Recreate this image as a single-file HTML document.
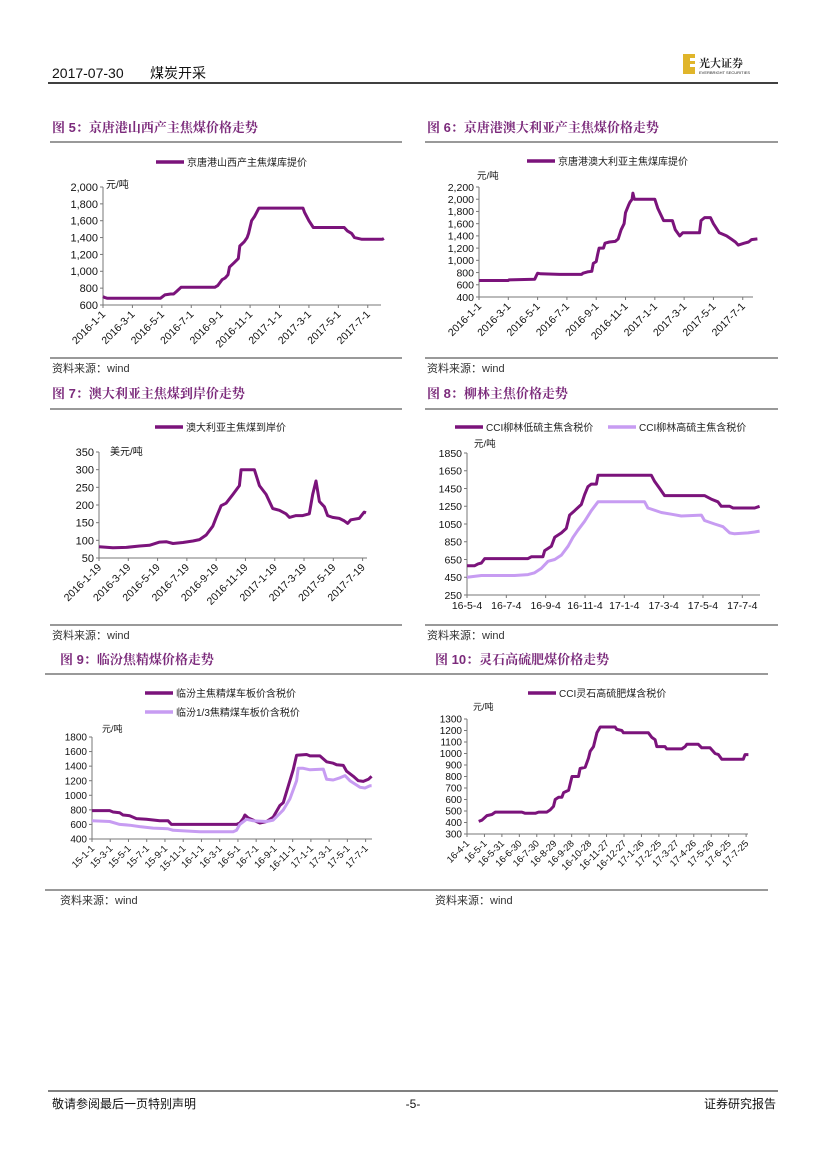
<!DOCTYPE html>
<html><head><meta charset="utf-8">
<style>
html,body{margin:0;padding:0;background:#fff;}
svg{display:block;}
text{font-family:"Liberation Sans","Noto Sans CJK SC",sans-serif;}
.ttl{font-family:"Liberation Sans","Noto Serif CJK SC",serif;font-weight:bold;fill:#7b2a7b;font-size:13px;}
</style></head>
<body>
<svg id="page" width="827" height="1169" viewBox="0 0 827 1169" xmlns="http://www.w3.org/2000/svg">
<g>
<text x="52" y="78" font-size="14" fill="#111">2017-07-30</text>
<text x="150" y="78" font-size="14" fill="#111">煤炭开采</text>
<line x1="48" y1="83" x2="778" y2="83" stroke="#000" stroke-width="1.5"/>
<g>
<rect x="683" y="54" width="12" height="20" fill="#e0b52a"/>
<rect x="690" y="58" width="5" height="3" fill="#fff"/><rect x="690" y="64" width="5" height="3" fill="#fff"/>
<text x="699" y="67" font-size="11" font-weight="bold" fill="#222" style="font-family:'Noto Serif CJK SC',serif">光大证券</text>
<text x="699" y="74" font-size="4" fill="#222">EVERBRIGHT SECURITIES</text>
</g>
</g>
<g>
<line x1="48" y1="1091" x2="778" y2="1091" stroke="#000" stroke-width="1"/>
<text x="52" y="1108" font-size="12" fill="#111">敬请参阅最后一页特别声明</text>
<text x="413" y="1108" font-size="12" fill="#111" text-anchor="middle">-5-</text>
<text x="776" y="1108" font-size="12" fill="#111" text-anchor="end">证券研究报告</text>
</g>
<g id="charts"></g>
</svg>
<script>
// Chart 5 data (x: months since 2016-1-1)
const c5Labels = ["2016-1-1","2016-3-1","2016-5-1","2016-7-1","2016-9-1","2016-11-1","2017-1-1","2017-3-1","2017-5-1","2017-7-1"];
const c5Yticks = [600,800,1000,1200,1400,1600,1800,2000];
const c5X = [0,0.1,0.3,3.9,4.2,4.6,4.8,5.0,5.3,7.6,7.8,8.1,8.3,8.5,8.6,8.9,9.2,9.3,9.6,9.8,9.9,10.1,10.3,10.6,13.6,13.7,14.0,14.3,16.4,16.6,16.9,17.1,17.6,19.0,19.1];
const c5Y = [700,690,680,680,720,730,730,760,810,810,830,900,920,960,1050,1100,1150,1300,1350,1400,1450,1600,1650,1750,1750,1700,1600,1520,1520,1480,1450,1400,1380,1380,1390];
// Chart 6
const c6Labels = c5Labels;
const c6Yticks = [400,600,800,1000,1200,1400,1600,1800,2000,2200];
const c6X = [0,2.0,2.05,3.8,3.9,4.0,4.2,5.5,7.0,7.1,7.4,7.7,7.8,8.0,8.1,8.2,8.5,8.6,8.9,9.3,9.5,9.7,9.9,10.0,10.2,10.3,10.45,10.5,10.6,12.0,12.2,12.4,12.6,13.2,13.4,13.7,13.9,15.05,15.15,15.4,15.8,16.0,16.4,16.9,17.2,17.5,17.7,18.1,18.4,18.6,19.0];
const c6Y = [670,670,680,690,740,790,780,770,770,790,810,820,950,980,1100,1200,1200,1280,1300,1310,1350,1500,1600,1780,1900,1950,2000,2100,2000,2000,1850,1750,1650,1650,1500,1400,1450,1450,1650,1700,1700,1600,1450,1400,1350,1300,1250,1280,1300,1340,1350];
// Chart 7 (months since 2016-1-19)
const c7Labels = ["2016-1-19","2016-3-19","2016-5-19","2016-7-19","2016-9-19","2016-11-19","2017-1-19","2017-3-19","2017-5-19","2017-7-19"];
const c7Yticks = [50,100,150,200,250,300,350];
const c7X = [0,0.95,1.86,2.77,3.45,4.14,4.59,5.05,5.73,6.41,6.86,7.32,7.77,8.0,8.34,8.68,9.14,9.59,9.7,10.61,10.95,11.41,11.86,12.32,12.77,13.0,13.45,13.91,14.36,14.59,14.82,15.05,15.39,15.61,15.95,16.41,16.75,16.98,17.2,17.77,18.11,18.23];
const c7Y = [82,79,80,84,86,95,96,91,94,98,102,115,140,165,198,205,230,255,300,300,255,230,190,185,175,165,170,170,175,230,268,210,195,170,165,162,155,148,158,162,180,178];
// Chart 8 (months since 16-5-4)
const c8Labels = ["16-5-4","16-7-4","16-9-4","16-11-4","17-1-4","17-3-4","17-5-4","17-7-4"];
const c8Yticks = [250,450,650,850,1050,1250,1450,1650,1850];
const c8X1 = [0,0.39,0.56,0.73,0.9,3.1,3.27,3.86,3.95,4.29,4.46,4.8,5.05,5.22,5.47,5.81,5.98,6.15,6.32,6.58,6.66,9.37,9.54,9.8,10.05,12.08,12.42,12.76,12.93,13.36,13.53,14.63,14.88];
const c8Y1 = [580,580,600,610,660,660,680,680,750,800,900,950,1000,1150,1200,1270,1380,1470,1500,1500,1600,1600,1530,1450,1370,1370,1330,1300,1250,1250,1230,1230,1250];
const c8X2 = [0,0.73,2.42,3.1,3.44,3.78,4.12,4.46,4.8,5.14,5.39,5.64,5.98,6.32,6.66,9.03,9.2,9.88,10.39,10.9,11.92,12.08,12.59,13.02,13.36,13.61,14.29,14.63,14.88];
const c8Y2 = [450,470,470,480,500,550,630,650,700,800,900,980,1080,1200,1300,1300,1230,1180,1160,1140,1150,1090,1050,1020,950,940,950,960,970];
// Chart 9 (months since 15-1-1)
const c9Labels = ["15-1-1","15-3-1","15-5-1","15-7-1","15-9-1","15-11-1","16-1-1","16-3-1","16-5-1","16-7-1","16-9-1","16-11-1","17-1-1","17-3-1","17-5-1","17-7-1"];
const c9Yticks = [400,600,800,1000,1200,1400,1600,1800];
const c9X1 = [0,1.94,2.31,3.04,3.4,4.13,4.87,5.96,7.43,8.34,8.71,11.82,15.84,16.21,16.58,16.76,17.12,17.67,18.4,19.14,19.87,20.6,20.97,21.7,22.06,22.43,23.53,23.9,24.99,25.36,25.72,26.45,26.82,27.55,27.92,28.65,29.2,29.75,30.3,30.66];
const c9Y1 = [790,790,770,760,730,720,680,670,650,650,600,600,600,620,680,730,690,660,620,640,700,860,900,1200,1350,1550,1560,1540,1540,1500,1460,1440,1420,1410,1330,1260,1200,1190,1220,1260];
const c9X2 = [0,1.94,3.04,4.13,5.23,6.7,8.34,8.89,10.35,11.82,15.48,15.84,16.21,16.94,17.67,19.14,19.87,20.97,21.7,22.43,22.61,23.16,23.9,25.36,25.72,26.45,27.19,27.74,28.28,29.38,29.93,30.48,30.66];
const c9Y2 = [650,640,600,590,570,550,540,520,510,500,500,520,600,670,650,640,660,800,950,1200,1370,1370,1350,1360,1220,1210,1240,1270,1200,1110,1100,1130,1130];
// Chart 10 (x in ~32-day units since 16-4-1; labels every 30 days)
const c10Labels = ["16-4-1","16-5-1","16-5-31","16-6-30","16-7-30","16-8-29","16-9-28","16-10-28","16-11-27","16-12-27","17-1-26","17-2-25","17-3-27","17-4-26","17-5-26","17-6-25","17-7-25"];
const c10Yticks = [300,400,500,600,700,800,900,1000,1100,1200,1300];
const c10X = [0.63,0.8,1.07,1.34,1.52,2.95,3.13,3.67,3.85,4.29,4.47,4.65,4.74,4.92,5.1,5.19,5.46,5.64,5.99,6.08,6.35,6.53,6.62,6.8,6.98,7.16,7.96,8.05,8.32,8.41,9.75,9.93,10.11,10.2,10.64,10.73,11.54,11.72,11.81,12.43,12.61,13.06,13.33,13.51,13.69,14.85,14.94,15.12];
const c10Y = [410,420,460,470,490,490,480,480,490,490,510,540,600,620,620,660,680,800,800,870,880,960,1020,1060,1180,1230,1230,1210,1200,1180,1180,1140,1120,1060,1060,1040,1040,1060,1080,1080,1050,1050,1000,990,950,950,990,990];

const NS = "http://www.w3.org/2000/svg";
const root = document.getElementById("charts");
const DARK = "#7b137b", LIGHT = "#c79cf2";
function mk(tag, attrs, parent, txt) {
  const e = document.createElementNS(NS, tag);
  for (const k in attrs) e.setAttribute(k, attrs[k]);
  if (txt !== undefined) e.textContent = txt;
  parent.appendChild(e);
  return e;
}
function fmt(v, comma) { return comma ? v.toLocaleString("en-US") : String(v); }

function frame(g, f) {
  const t = mk("text", {x: f.tx, y: f.ty, class: "ttl"}, g, f.title);
  
  
  mk("line", {x1: f.rx0, x2: f.rx1, y1: f.ry0, y2: f.ry0, stroke: "#333", "stroke-width": 1}, g);
  mk("line", {x1: f.rx0, x2: f.rx1, y1: f.ry1, y2: f.ry1, stroke: "#333", "stroke-width": 1}, g);
  const s = mk("text", {x: f.tx, y: f.ry1 + 14, "font-size": 11, fill: "#333"}, g, "资料来源：wind");
  
  
}

function chart(c) {
  const g = mk("g", {}, root);
  
  
  frame(g, c.frame);
  const sx = v => c.x0 + (v - c.xmin) / (c.xmax - c.xmin) * (c.x1 - c.x0);
  const sy = v => c.yb + (v - c.ymin) / (c.ymax - c.ymin) * (c.yt - c.yb);
  const ya = mk("g", {}, g);
  
  
  mk("line", {x1: c.x0, x2: c.x0, y1: c.yt, y2: c.yb, stroke: "#777", "stroke-width": 1}, ya);
  c.yticks.forEach(v => {
    const y = sy(v);
    mk("line", {x1: c.x0 - 3, x2: c.x0, y1: y, y2: y, stroke: "#777"}, ya);
    const t = mk("text", {x: c.x0 - 5, y: y + c.fs * 0.36, "font-size": c.fs, fill: "#111", "text-anchor": "end"}, ya, fmt(v, c.comma));
    
    
  });
  const u = mk("text", {x: c.ux, y: c.uy, "font-size": c.fs - 1, fill: "#111"}, ya, c.unit);
  
  
  const xa = mk("g", {}, g);
  
  
  mk("line", {x1: c.x0, x2: c.x1, y1: c.yb, y2: c.yb, stroke: "#777"}, xa);
  c.labels.forEach((lab, i) => {
    const x = sx(i * c.step);
    mk("line", {x1: x, x2: x, y1: c.yb, y2: c.yb + 3, stroke: "#777"}, xa);
    let t;
    if (c.rot) {
      t = mk("text", {x: x + 3, y: c.yb + 10, "font-size": c.xfs, fill: "#111", "text-anchor": "end", transform: `rotate(-45 ${x + 3} ${c.yb + 10})`}, xa, lab);
    } else {
      t = mk("text", {x: x, y: c.yb + 14, "font-size": c.xfs, fill: "#111", "text-anchor": "middle"}, xa, lab);
    }
    
    
  });
  c.series.forEach(s => {
    const pts = s.xs.map((v, i) => sx(v).toFixed(1) + "," + sy(s.ys[i]).toFixed(1)).join(" ");
    const p = mk("polyline", {points: pts, fill: "none", stroke: s.color, "stroke-width": 3, "stroke-linejoin": "round"}, g);
    
    
    const le = mk("g", {}, g);
    
    
    mk("line", {x1: s.lx, x2: s.lx + 28, y1: s.ly, y2: s.ly, stroke: s.color, "stroke-width": 3.5}, le);
    mk("text", {x: s.lx + 31, y: s.ly + 4, "font-size": 10, fill: "#222"}, le, s.label);
  });
}

chart({name: "chart-fig5", frame: {title: "图 5：京唐港山西产主焦煤价格走势", tx: 52, ty: 132, rx0: 50, rx1: 402, ry0: 142, ry1: 358},
  x0: 103, x1: 381, xmin: 0, xmax: 18.9, yb: 305, yt: 187, ymin: 600, ymax: 2000, yticks: c5Yticks, comma: true, fs: 11, xfs: 10.5, rot: true,
  labels: c5Labels, step: 2, unit: "元/吨", ux: 106, uy: 188,
  series: [{name: "series-shanxi-coking-coal", xs: c5X, ys: c5Y, color: DARK, label: "京唐港山西产主焦煤库提价", lx: 156, ly: 162}]});
chart({name: "chart-fig6", frame: {title: "图 6：京唐港澳大利亚产主焦煤价格走势", tx: 427, ty: 132, rx0: 425, rx1: 778, ry0: 142, ry1: 358},
  x0: 479, x1: 753, xmin: 0, xmax: 18.7, yb: 297, yt: 187, ymin: 400, ymax: 2200, yticks: c6Yticks, comma: true, fs: 10.5, xfs: 10.5, rot: true,
  labels: c6Labels, step: 2, unit: "元/吨", ux: 477, uy: 179,
  series: [{name: "series-australia-coking-coal", xs: c6X, ys: c6Y, color: DARK, label: "京唐港澳大利亚主焦煤库提价", lx: 527, ly: 161}]});
chart({name: "chart-fig7", frame: {title: "图 7：澳大利亚主焦煤到岸价走势", tx: 52, ty: 398, rx0: 50, rx1: 402, ry0: 409, ry1: 625},
  x0: 99, x1: 367, xmin: 0, xmax: 18.3, yb: 558, yt: 452, ymin: 50, ymax: 350, yticks: c7Yticks, comma: false, fs: 11, xfs: 10.5, rot: true,
  labels: c7Labels, step: 2, unit: "美元/吨", ux: 110, uy: 455,
  series: [{name: "series-australia-cif", xs: c7X, ys: c7Y, color: DARK, label: "澳大利亚主焦煤到岸价", lx: 155, ly: 427}]});
chart({name: "chart-fig8", frame: {title: "图 8：柳林主焦价格走势", tx: 427, ty: 398, rx0: 425, rx1: 778, ry0: 409, ry1: 625},
  x0: 467, x1: 760, xmin: 0, xmax: 14.9, yb: 595, yt: 453, ymin: 250, ymax: 1850, yticks: c8Yticks, comma: false, fs: 10.5, xfs: 10.5, rot: false,
  labels: c8Labels, step: 2, unit: "元/吨", ux: 474, uy: 447,
  series: [{name: "series-liulin-low-sulfur", xs: c8X1, ys: c8Y1, color: DARK, label: "CCI柳林低硫主焦含税价", lx: 455, ly: 427},
           {name: "series-liulin-high-sulfur", xs: c8X2, ys: c8Y2, color: LIGHT, label: "CCI柳林高硫主焦含税价", lx: 608, ly: 427}]});
chart({name: "chart-fig9", frame: {title: "图 9：临汾焦精煤价格走势", tx: 60, ty: 664, rx0: 45, rx1: 420, ry0: 674, ry1: 890},
  x0: 92, x1: 372, xmin: 0, xmax: 30.7, yb: 839, yt: 737, ymin: 400, ymax: 1800, yticks: c9Yticks, comma: false, fs: 10, xfs: 9.5, rot: true,
  labels: c9Labels, step: 2, unit: "元/吨", ux: 102, uy: 732,
  series: [{name: "series-linfen-main", xs: c9X1, ys: c9Y1, color: DARK, label: "临汾主焦精煤车板价含税价", lx: 145, ly: 693},
           {name: "series-linfen-third", xs: c9X2, ys: c9Y2, color: LIGHT, label: "临汾1/3焦精煤车板价含税价", lx: 145, ly: 712}]});
chart({name: "chart-fig10", frame: {title: "图 10：灵石高硫肥煤价格走势", tx: 435, ty: 664, rx0: 418, rx1: 768, ry0: 674, ry1: 890},
  x0: 467, x1: 748, xmin: 0, xmax: 15.1, yb: 834, yt: 719, ymin: 300, ymax: 1300, yticks: c10Yticks, comma: false, fs: 10, xfs: 9.5, rot: true,
  labels: c10Labels, step: 0.9374, unit: "元/吨", ux: 473, uy: 710,
  series: [{name: "series-lingshi-fat-coal", xs: c10X, ys: c10Y, color: DARK, label: "CCI灵石高硫肥煤含税价", lx: 528, ly: 693}]});
</script>
</body></html>
